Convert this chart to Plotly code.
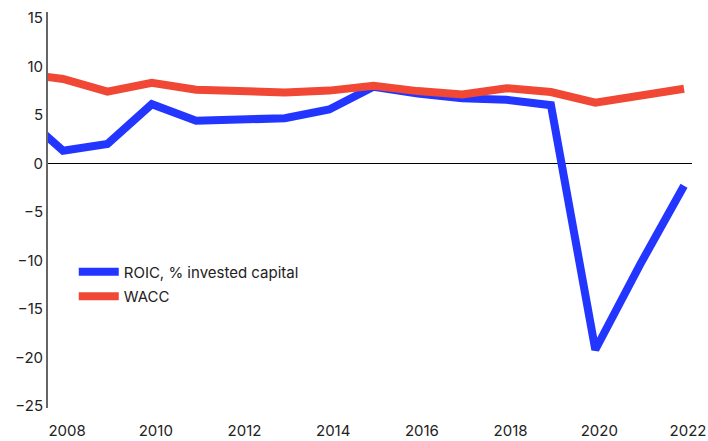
import plotly.graph_objects as go

years = list(range(2007, 2023))
roic = [5.4, 1.3, 2.0, 6.1, 4.4, 4.5, 4.65, 5.55, 7.9, 7.2, 6.7, 6.55, 6.0, -19.2, -10.5, -2.3]
wacc = [9.3, 8.7, 7.4, 8.3, 7.6, 7.45, 7.3, 7.5, 8.0, 7.45, 7.1, 7.75, 7.35, 6.25, 6.9, 7.7]
x_ticks = [2008, 2010, 2012, 2014, 2016, 2018, 2020, 2022]
y_ticks = [15, 10, 5, 0, -5, -10, -15, -20, -25]

fig = go.Figure()
fig.add_trace(go.Scatter(x=years, y=roic, mode='lines', name='ROIC, % invested capital',
                         legendgroup='roic',
                         line=dict(color='#2236ff', width=8)))
fig.add_trace(go.Scatter(x=years, y=wacc, mode='lines', name='WACC',
                         legendgroup='wacc',
                         line=dict(color='#f04834', width=8)))

fig.update_layout(
    width=708, height=441,
    margin=dict(l=48, r=16, t=12, b=33),
    plot_bgcolor='white', paper_bgcolor='white',
    font=dict(family='Inter', size=15, color='#222'),
    showlegend=True,
    legend=dict(x=0.040, y=0.385, xanchor='left', yanchor='top',
                bgcolor='rgba(0,0,0,0)', itemwidth=40, tracegroupgap=2,
                font=dict(size=15)),
)
fig.update_xaxes(range=[2007.66, 2022.18], tickvals=x_ticks, showgrid=False,
                 zeroline=False, showline=False, ticks='', automargin=False,
                 ticklabelstandoff=12, ticklabelshift=4)
fig.update_yaxes(range=[-25.2, 15.6], tickvals=y_ticks, showgrid=False,
                 zeroline=True, zerolinecolor='black', zerolinewidth=1,
                 showline=True, linecolor='#666', linewidth=2, ticks='',
                 automargin=False, ticklabelstandoff=0)

# the page body has a default 8px margin; drop it so the figure fills the window
fig.write_html("out.html", config={'displayModeBar': False},
               post_script="document.body.style.margin='0';")
